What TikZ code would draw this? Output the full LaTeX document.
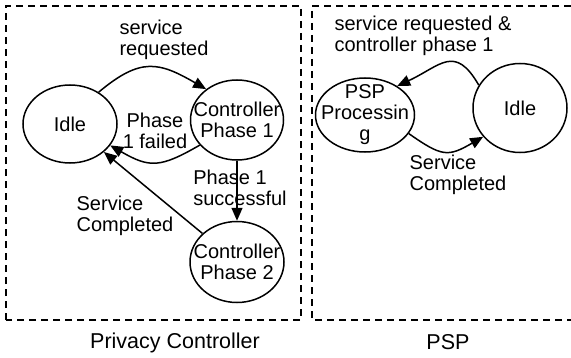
\documentclass[tikz,border=0pt]{standalone}
\usepackage{fontspec}
\setmainfont{Liberation Sans}
\usepackage{tikz}
\usetikzlibrary{shapes.geometric}
\usetikzlibrary{arrows.meta}

\begin{document}
\begin{tikzpicture}[x=1pt,y=1pt,font=\fontsize{20}{21}\selectfont]
\useasboundingbox (0,0) rectangle (571,357);

% frames
\draw [dash pattern=on 7pt off 5pt,line width=1.1] (6,37) rectangle (301,351);
\draw [dash pattern=on 7pt off 5pt,line width=1.1] (571,351) -- (312,351) -- (312,37) -- (571,37);

\begin{scope}[every node/.style={ellipse,draw,line width=1.5,inner sep=-30pt,align=center}]
    \node [minimum width=94,minimum height=78] (Idle) at (70,233) {Idle};
    \node [minimum width=93,minimum height=80] (CP1) at (237,237) {Controller\\Phase 1};
    \node [minimum width=94,minimum height=81] (CP2) at (237,95) {Controller\\Phase 2};
    
    \node [minimum width=99,minimum height=74] (PSP) at (365,242) {PSP\\Processin\\g};
    \node [minimum width=94,minimum height=89] (IdlePSP) at (520,249) {Idle};
\end{scope}

\begin{scope}[every node/.style={align=left,inner sep=0pt}]
    \node (Req) at (164,317) {\fontsize{20}{24}\selectfont service\\requested};
    \node [align=center] (Failed) at (155,226) {Phase\\1 failed};
    \node (Succ) at (240,169) {Phase 1\\successful};
    \node (Done) at (125,141) {Service\\Completed};
    
    \node (ReqPSP) at (423,321) {service requested \&\\controller phase 1};
    \node (DonePSP) at (458,182) {Service\\Completed};
    
    \node [font=\fontsize{21.5}{24}\selectfont] (PC) at (175,14) {Privacy Controller};
    \node [font=\fontsize{21.5}{24}\selectfont] (PSPname) at (448,15) {PSP};
\end{scope}

\begin{scope}[>={Triangle[length=13pt,width=11pt]},line width=1.5]
     \draw [->] (Idle.48) to[out=40,in=150,looseness=1.3] (CP1.135);
     \draw [->] (CP1.214) to[out=210,in=-30,looseness=1.3] (Idle.332);
     \draw [->] (CP1) -- (CP2);
     \draw [->] (CP2) -- (Idle);
     
     \draw [->] (IdlePSP.151) to[out=120,in=25,looseness=1.5] (PSP.42);
     \draw [->] (PSP.-23) to[out=-35,in=210,looseness=1.4] (IdlePSP.218);
\end{scope}
\end{tikzpicture}
\end{document}
